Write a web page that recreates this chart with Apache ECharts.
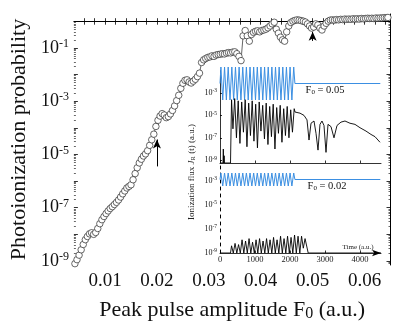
<!DOCTYPE html>
<html>
<head>
<meta charset="utf-8">
<script src="https://cdn.jsdelivr.net/npm/echarts@6/dist/echarts.min.js"></script>
<style>
  html, body { margin: 0; padding: 0; background: #fff; }
  #chart { width: 395px; height: 327px; }
</style>
</head>
<body>
<div id="chart"></div>
<script>
// Main panel: [peak amplitude F0, log10(photoionization probability)]
const probPoints = [
  [0.0042, -9.10], [0.0046, -8.95], [0.0050, -8.78], [0.0054, -8.58], [0.0058, -8.38],
  [0.0062, -8.20], [0.0066, -8.08], [0.0070, -7.98], [0.0074, -7.94], [0.0078, -8.00],
  [0.0082, -7.93], [0.0086, -7.78], [0.0090, -7.60], [0.0094, -7.45], [0.0098, -7.33],
  [0.0102, -7.22], [0.0106, -7.12], [0.0110, -7.03], [0.0114, -6.96], [0.0118, -6.88],
  [0.0122, -6.80], [0.0126, -6.71], [0.0130, -6.60], [0.0134, -6.48], [0.0138, -6.37],
  [0.0142, -6.26], [0.0146, -6.20], [0.0150, -6.14], [0.0154, -5.95], [0.0158, -5.72],
  [0.0162, -5.50], [0.0166, -5.32], [0.0170, -5.18], [0.0174, -5.06], [0.0178, -4.98],
  [0.0182, -4.86], [0.0186, -4.66], [0.0190, -4.45], [0.0194, -4.24], [0.0198, -3.95],
  [0.0202, -3.72], [0.0206, -3.56], [0.0210, -3.47], [0.0214, -3.52], [0.0218, -3.62],
  [0.0222, -3.58], [0.0226, -3.48], [0.0230, -3.35], [0.0234, -3.18], [0.0238, -2.98],
  [0.0242, -2.78], [0.0246, -2.52], [0.0250, -2.33], [0.0254, -2.22], [0.0258, -2.20],
  [0.0262, -2.28], [0.0266, -2.32], [0.0270, -2.25], [0.0274, -2.18], [0.0278, -2.08],
  [0.0282, -1.95], [0.0286, -1.55], [0.0290, -1.45], [0.0294, -1.40], [0.0298, -1.36],
  [0.0302, -1.34], [0.0306, -1.30], [0.0310, -1.32], [0.0314, -1.27], [0.0318, -1.25],
  [0.0322, -1.24], [0.0326, -1.22], [0.0330, -1.23], [0.0334, -1.20], [0.0338, -1.18],
  [0.0342, -1.19], [0.0346, -1.16], [0.0350, -1.15], [0.0354, -1.22], [0.0358, -1.32],
  [0.0362, -1.48], [0.0366, -0.55], [0.0370, -0.35], [0.0374, -0.55], [0.0378, -0.75],
  [0.0382, -0.50], [0.0386, -0.42], [0.0390, -0.38], [0.0394, -0.36], [0.0398, -0.40],
  [0.0402, -0.35], [0.0406, -0.33], [0.0410, -0.30], [0.0414, -0.25], [0.0418, -0.18],
  [0.0422, -0.10], [0.0426, -0.04], [0.0430, -0.30], [0.0434, -0.45], [0.0438, -0.60],
  [0.0442, -0.70], [0.0446, -0.75], [0.0450, -0.40], [0.0454, -0.18], [0.0458, -0.05],
  [0.0462, 0.00], [0.0466, 0.03], [0.0470, 0.05], [0.0474, 0.04], [0.0478, 0.02],
  [0.0482, 0.00], [0.0486, -0.03], [0.0490, -0.10], [0.0494, -0.18], [0.0498, -0.26],
  [0.0502, -0.22], [0.0506, -0.10], [0.0510, -0.14], [0.0514, -0.26], [0.0518, -0.33],
  [0.0522, -0.18], [0.0526, -0.08], [0.0530, 0.00], [0.0534, 0.04], [0.0538, 0.05],
  [0.0542, 0.04], [0.0546, 0.06], [0.0550, 0.05], [0.0554, 0.07], [0.0558, 0.06],
  [0.0562, 0.08], [0.0566, 0.07], [0.0570, 0.08], [0.0574, 0.07], [0.0578, 0.09],
  [0.0582, 0.08], [0.0586, 0.09], [0.0590, 0.08], [0.0594, 0.10], [0.0598, 0.09],
  [0.0602, 0.10], [0.0606, 0.11], [0.0610, 0.10], [0.0614, 0.11], [0.0618, 0.10],
  [0.0622, 0.12], [0.0626, 0.11], [0.0630, 0.12], [0.0634, 0.12], [0.0638, 0.13],
  [0.0642, 0.13], [0.0645, 0.14]
];
const xLabelValues = [0.01, 0.02, 0.03, 0.04, 0.05, 0.06];
const xTickValues = [0.006, 0.008, 0.010, 0.012, 0.014, 0.016, 0.018, 0.020, 0.022, 0.024,
  0.026, 0.028, 0.030, 0.032, 0.034, 0.036, 0.038, 0.040, 0.042, 0.044, 0.046, 0.048,
  0.050, 0.052, 0.054, 0.056, 0.058, 0.060, 0.062, 0.064];
const yLabelExps = [-9, -7, -5, -3, -1];
const yMajorExps = [-9, -8, -7, -6, -5, -4, -3, -2, -1, 0];
// arrows: [F0, log10 P tail, log10 P tip]
const arrowMarks = [[0.02, -5.45, -4.44], [0.05, -0.74, -0.40]];

// Inset: ionization flux, [time a.u., log10 J_R]
const insetTimeLabels = [0, 1000, 2000, 3000, 4000];
const insetLabelExps = [-9, -7, -5, -3];
const fluxStrong = [ // F0 = 0.05
  [0, -9.25], [85, -9.25], [95, -8.0], [105, -9.25], [118, -8.6], [128, -9.25], [300, -9.25],
  [330, -3.6], [370, -6.2], [420, -3.5], [470, -7.0], [520, -3.7], [570, -7.5], [620, -3.8],
  [670, -6.5], [720, -3.6], [770, -7.8], [820, -3.9], [870, -6.8], [920, -3.7], [970, -7.3],
  [1020, -4.0], [1070, -7.9], [1120, -3.8], [1170, -6.4], [1220, -4.1], [1270, -7.1],
  [1320, -3.9], [1370, -7.6], [1420, -4.2], [1470, -6.9], [1520, -4.0], [1570, -8.0],
  [1620, -4.3], [1670, -6.6], [1720, -4.1], [1770, -7.4], [1820, -4.4], [1870, -6.8],
  [1920, -4.2], [1970, -7.0], [2020, -4.5], [2070, -6.5], [2120, -4.4],
  [2143, -4.7], [2286, -4.8], [2400, -5.0], [2486, -5.4], [2543, -7.2], [2600, -5.7],
  [2686, -5.5], [2743, -6.6], [2800, -8.1], [2857, -5.8], [2914, -5.5], [2971, -5.9],
  [3029, -8.3], [3086, -5.8], [3171, -6.0], [3257, -7.0], [3343, -5.9], [3457, -5.6],
  [3571, -5.5], [3714, -5.7], [3857, -5.8], [4000, -6.1], [4171, -6.4], [4314, -6.7],
  [4429, -6.9], [4571, -7.4]
];
const fluxWeak = [ // F0 = 0.02
  [0, -9], [300, -9], [330, -8.4], [380, -9], [430, -8.2], [480, -9], [530, -8.3], [580, -9],
  [630, -7.9], [680, -9], [730, -8.0], [780, -9], [830, -7.8], [880, -9], [930, -8.1],
  [980, -9], [1030, -7.9], [1080, -9], [1130, -7.8], [1180, -9], [1230, -8.0], [1280, -9],
  [1330, -7.8], [1380, -9], [1430, -7.9], [1480, -9], [1530, -7.7], [1580, -9], [1630, -7.9],
  [1680, -9], [1730, -7.6], [1780, -9], [1830, -7.8], [1880, -9], [1930, -7.6], [1980, -9],
  [2030, -7.7], [2080, -9], [2130, -7.5], [2180, -9], [2230, -7.6], [2280, -9], [2330, -7.6],
  [2380, -8.6], [2430, -7.8], [2520, -9], [4600, -9]
];
// laser field (blue), relative units
const fieldTime = [0, 26, 78, 130, 182, 234, 286, 338, 390, 442, 494, 546, 598, 650, 702,
  754, 806, 858, 910, 962, 1014, 1066, 1118, 1170, 1222, 1274, 1326, 1378, 1430, 1482,
  1534, 1586, 1638, 1690, 1742, 1794, 1846, 1898, 1950, 2002, 2054, 2106, 2140, 4580];
const fieldShape = [0, 1, -1, 1, -1, 1, -1, 1, -1, 1, -1, 1, -1, 1, -1, 1, -1, 1, -1, 1, -1,
  1, -1, 1, -1, 1, -1, 1, -1, 1, -1, 1, -1, 1, -1, 1, -1, 1, -1, 1, -1, 1, 0, 0];

const serif = '"Liberation Serif", "Times New Roman", serif';
const blue = '#3b8fe2';

// log-spaced minor ticks between decades
function minorLogTicks(lo, hi) {
    const out = [];
    for (let n = lo; n < hi; n++) {
        for (let k = 2; k <= 9; k++) out.push(n + Math.log10(k));
    }
    return out;
}

function powLabel(size, supSize) {
    return {
        formatter: v => '{b|10}{s|' + v + '}',
        rich: {
            b: { fontSize: size, lineHeight: size + 2, fontFamily: serif, color: '#111' },
            s: { fontSize: supSize, lineHeight: supSize, verticalAlign: 'top', fontFamily: serif, color: '#111' }
        }
    };
}

const chart = echarts.init(document.getElementById('chart'));
const mainY = { min: -9.15, max: 0.27 };
const mainX = { min: 0.004, max: 0.065 };
const tMax = 4600;
const black = { color: '#000', width: 0.8 };

const option = {
    animation: false,
    backgroundColor: '#fff',
    grid: [
        { left: 67.2, right: 4.5, top: 14, bottom: 61 },
        { left: 220, width: 161, top: 70.6, height: 92.4 },
        { left: 220, width: 161, top: 163, height: 90 },
        { left: 220, width: 161, top: 67, height: 33 },
        { left: 220, width: 161, top: 173, height: 13 }
    ],
    xAxis: [
        {
            gridIndex: 0, type: 'value', position: 'bottom', ...mainX,
            axisLine: { show: false },
            axisTick: { show: true, inside: true, length: 3, customValues: xTickValues, lineStyle: black },
            axisLabel: {
                customValues: xLabelValues, margin: 7, fontSize: 19, fontFamily: serif, color: '#111',
                formatter: v => v.toFixed(2)
            },
            splitLine: { show: false },
            name: '{n|Peak pulse amplitude F}{s|0}{n| (a.u.)}',
            nameLocation: 'middle', nameGap: 33,
            nameTextStyle: {
                rich: {
                    n: { fontSize: 22, lineHeight: 24, fontFamily: serif, color: '#111' },
                    s: { fontSize: 16, lineHeight: 16, verticalAlign: 'bottom', fontFamily: serif, color: '#111' }
                }
            }
        },
        {
            gridIndex: 0, type: 'value', position: 'top', ...mainX,
            axisLine: { show: true, lineStyle: { color: '#000', width: 1 } },
            axisTick: { show: true, inside: true, length: 3.5, customValues: xTickValues, lineStyle: black },
            axisLabel: { show: false }, splitLine: { show: false }
        },
        {
            gridIndex: 1, type: 'value', min: 0, max: tMax,
            axisLine: { show: true, lineStyle: black },
            axisTick: { show: true, inside: true, length: 2.5, customValues: insetTimeLabels, lineStyle: black },
            axisLabel: { show: false }, splitLine: { show: false }
        },
        {
            gridIndex: 2, type: 'value', min: 0, max: tMax,
            axisLine: { show: true, symbol: ['none', 'arrow'], symbolSize: [5, 9], lineStyle: black },
            axisTick: { show: true, inside: true, length: 2.5, customValues: insetTimeLabels, lineStyle: black },
            axisLabel: {
                customValues: insetTimeLabels, margin: 2, fontSize: 8.5, fontFamily: serif, color: '#222',
                formatter: v => String(v)
            },
            splitLine: { show: false }
        },
        { gridIndex: 3, type: 'value', min: 0, max: tMax, show: false },
        { gridIndex: 4, type: 'value', min: 0, max: tMax, show: false }
    ],
    yAxis: [
        {
            gridIndex: 0, type: 'value', position: 'left', ...mainY,
            axisLine: { show: false },
            axisTick: { show: true, inside: true, length: 4, customValues: yMajorExps, lineStyle: black },
            axisLabel: Object.assign({ customValues: yLabelExps, margin: 5 }, powLabel(18, 12)),
            splitLine: { show: false },
            name: 'Photoionization probability', nameLocation: 'middle', nameGap: 33,
            nameTextStyle: { fontSize: 22, fontFamily: serif, color: '#111' }
        },
        {
            gridIndex: 0, type: 'value', position: 'left', ...mainY,
            axisLine: { show: false },
            axisTick: { show: true, inside: true, length: 2, customValues: minorLogTicks(-10, 1), lineStyle: { color: '#000', width: 0.6 } },
            axisLabel: { show: false }, splitLine: { show: false }
        },
        {
            gridIndex: 0, type: 'value', position: 'right', ...mainY,
            axisLine: { show: true, lineStyle: { color: '#000', width: 1 } },
            axisTick: { show: true, inside: true, length: 4, customValues: yMajorExps, lineStyle: black },
            axisLabel: { show: false }, splitLine: { show: false }
        },
        {
            gridIndex: 0, type: 'value', position: 'right', ...mainY,
            axisLine: { show: false },
            axisTick: { show: true, inside: true, length: 2, customValues: minorLogTicks(-10, 1), lineStyle: { color: '#000', width: 0.6 } },
            axisLabel: { show: false }, splitLine: { show: false }
        },
        {
            gridIndex: 1, type: 'value', min: -9.25, max: -1,
            axisLine: { show: true, lineStyle: black },
            axisTick: { show: true, inside: true, length: 2, customValues: insetLabelExps, lineStyle: black },
            axisLabel: Object.assign({ customValues: insetLabelExps, margin: 3 }, powLabel(8, 5.5)),
            splitLine: { show: false }
        },
        {
            gridIndex: 2, type: 'value', min: -9, max: -1.5,
            axisLine: { show: true, lineStyle: { color: '#000', width: 1, type: [3, 4] } },
            axisTick: { show: false },
            axisLabel: Object.assign({ customValues: insetLabelExps, margin: 3 }, powLabel(8, 5.5)),
            splitLine: { show: false }
        },
        { gridIndex: 3, type: 'value', min: -1, max: 1, show: false },
        { gridIndex: 4, type: 'value', min: -1, max: 1, show: false }
    ],
    series: [
        {
            type: 'line', xAxisIndex: 0, yAxisIndex: 0, data: probPoints,
            symbol: 'circle', symbolSize: 6.5, showAllSymbol: true, silent: true,
            lineStyle: { color: '#222', width: 0.7 },
            itemStyle: { color: '#fff', borderColor: '#262626', borderWidth: 0.7 },
            z: 3,
            markLine: {
                silent: true, animation: false,
                symbol: ['none', 'arrow'], symbolSize: [6, 9],
                lineStyle: { color: '#000', width: 1, type: 'solid' },
                label: { show: false },
                data: arrowMarks.map(a => [{ coord: [a[0], a[1]] }, { coord: [a[0], a[2]] }])
            }
        },
        {
            type: 'line', xAxisIndex: 4, yAxisIndex: 6, data: fieldTime.map((t, i) => [t, fieldShape[i]]),
            symbol: 'none', clip: false, silent: true, z: 2,
            lineStyle: { color: blue, width: 1 }
        },
        {
            type: 'line', xAxisIndex: 5, yAxisIndex: 7, data: fieldTime.map((t, i) => [t, fieldShape[i]]),
            symbol: 'none', clip: false, silent: true, z: 2,
            lineStyle: { color: blue, width: 1 }
        },
        {
            type: 'line', xAxisIndex: 2, yAxisIndex: 4, data: fluxStrong,
            symbol: 'none', silent: true, z: 4,
            lineStyle: { color: '#000', width: 0.9 }
        },
        {
            type: 'line', xAxisIndex: 3, yAxisIndex: 5, data: fluxWeak,
            symbol: 'none', silent: true, z: 4,
            lineStyle: { color: '#000', width: 0.9 }
        }
    ],
    graphic: [
        {
            type: 'text', x: 192, y: 172, rotation: Math.PI / 2, silent: true,
            style: {
                text: '{n|Ionization flux }{j|J}{r|R}{n| (t) (a.u.)}',
                align: 'center', verticalAlign: 'middle',
                rich: {
                    n: { fontSize: 9, fontFamily: serif, fill: '#222' },
                    j: { fontSize: 9, fontFamily: serif, fontStyle: 'italic', fill: '#222' },
                    r: { fontSize: 6.5, fontFamily: serif, fill: '#222', verticalAlign: 'bottom', lineHeight: 6.5 }
                }
            }
        },
        {
            type: 'text', x: 325, y: 90, silent: true,
            style: {
                text: '{n|F}{s|0}{n| = 0.05}', align: 'center', verticalAlign: 'middle',
                rich: {
                    n: { fontSize: 10.5, lineHeight: 12, fontFamily: serif, fill: '#111' },
                    s: { fontSize: 7, lineHeight: 7, verticalAlign: 'bottom', fontFamily: serif, fill: '#111' }
                }
            }
        },
        {
            type: 'text', x: 327, y: 186, silent: true,
            style: {
                text: '{n|F}{s|0}{n| = 0.02}', align: 'center', verticalAlign: 'middle',
                rich: {
                    n: { fontSize: 10.5, lineHeight: 12, fontFamily: serif, fill: '#111' },
                    s: { fontSize: 7, lineHeight: 7, verticalAlign: 'bottom', fontFamily: serif, fill: '#111' }
                }
            }
        },
        {
            type: 'text', x: 358, y: 247, silent: true,
            style: {
                text: 'Time (a.u.)', align: 'center', verticalAlign: 'middle',
                fontSize: 7, fontFamily: serif, fill: '#222'
            }
        }
    ]
};

chart.setOption(option);
</script>
</body>
</html>
